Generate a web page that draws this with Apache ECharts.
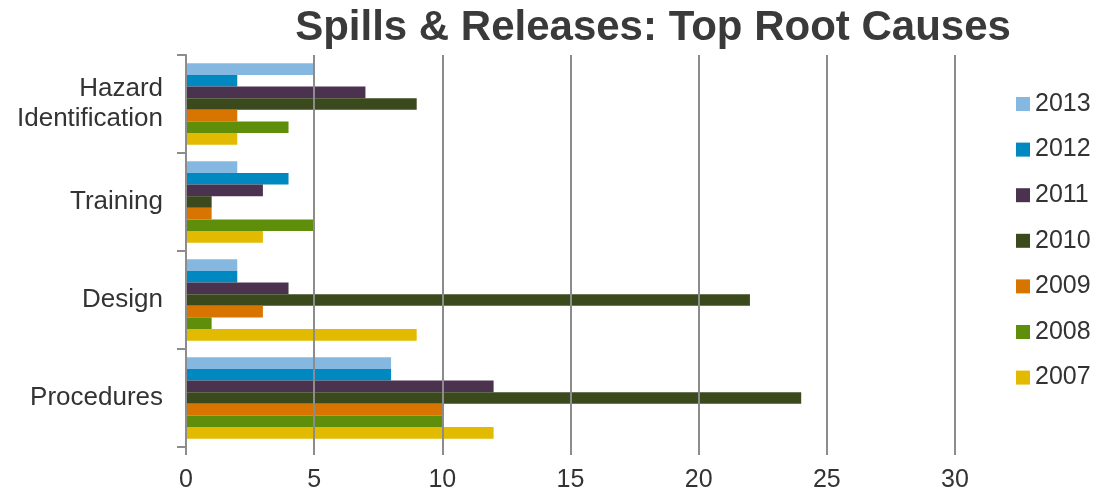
<!DOCTYPE html>
<html>
<head>
<meta charset="utf-8">
<script src="https://cdn.jsdelivr.net/npm/echarts@6/dist/echarts.min.js"></script>
<style>
  html, body { margin: 0; padding: 0; background: #fff; }
  #chart { width: 1104px; height: 489px; }
</style>
</head>
<body>
<div id="chart"></div>
<script>
// Root-cause categories, listed bottom to top on the vertical axis
const categories = ['Procedures', 'Design', 'Training', 'Hazard\nIdentification'];

// Spill counts per year, in category order
const s2013 = [8, 2, 2, 5];
const s2012 = [8, 2, 4, 2];
const s2011 = [12, 4, 3, 7];
const s2010 = [24, 22, 1, 9];
const s2009 = [10, 3, 1, 2];
const s2008 = [10, 1, 5, 4];
const s2007 = [12, 9, 3, 2];

const years = ['2013', '2012', '2011', '2010', '2009', '2008', '2007'];
const yearData = [s2013, s2012, s2011, s2010, s2009, s2008, s2007];
const yearColors = ['#85B8E0', '#0088C0', '#4B3350', '#3B4A1C', '#D87400', '#5F8E0A', '#E2BA00'];

const font = 'Liberation Sans, Arial, sans-serif';
const gridGray = '#8C8C8C';

const chart = echarts.init(document.getElementById('chart'), null, { renderer: 'canvas' });

chart.setOption({
  animation: false,
  backgroundColor: '#fff',
  title: {
    text: 'Spills & Releases: Top Root Causes',
    left: 648,
    top: 2,
    textAlign: 'center',
    textStyle: { fontFamily: font, fontSize: 42, fontWeight: 'bold', color: '#3A3A3A' }
  },
  legend: {
    data: years,
    orient: 'vertical',
    left: 1011,
    top: 85,
    itemWidth: 14,
    itemHeight: 14,
    itemGap: 17.6,
    icon: 'rect',
    textStyle: { fontFamily: font, fontSize: 25, color: '#333', lineHeight: 28 }
  },
  grid: {
    left: 186, right: 149, top: 55, bottom: 42,
    containLabel: false, outerBoundsMode: 'none'
  },
  xAxis: {
    type: 'value',
    min: 0,
    max: 30,
    interval: 5,
    z: 3,
    axisLine: { show: false },
    axisTick: { show: true, length: 8, lineStyle: { color: gridGray, width: 2 } },
    splitLine: { show: true, lineStyle: { color: gridGray, width: 2 } },
    axisLabel: { fontFamily: font, fontSize: 25, color: '#333', margin: 21 }
  },
  yAxis: {
    type: 'category',
    data: categories,
    z: 3,
    axisLine: { show: true, lineStyle: { color: gridGray, width: 2 } },
    axisTick: { show: true, length: 9, lineStyle: { color: gridGray, width: 2 } },
    axisLabel: {
      fontFamily: font, fontSize: 26, color: '#333', margin: 23,
      lineHeight: 30, align: 'right', padding: [4, 0, 0, 0]
    }
  },
  series: years.map((y, i) => ({
    name: y,
    type: 'bar',
    data: yearData[i],
    itemStyle: { color: yearColors[i] },
    barGap: '0%',
    barCategoryGap: '17%'
  }))
});
</script>
</body>
</html>
